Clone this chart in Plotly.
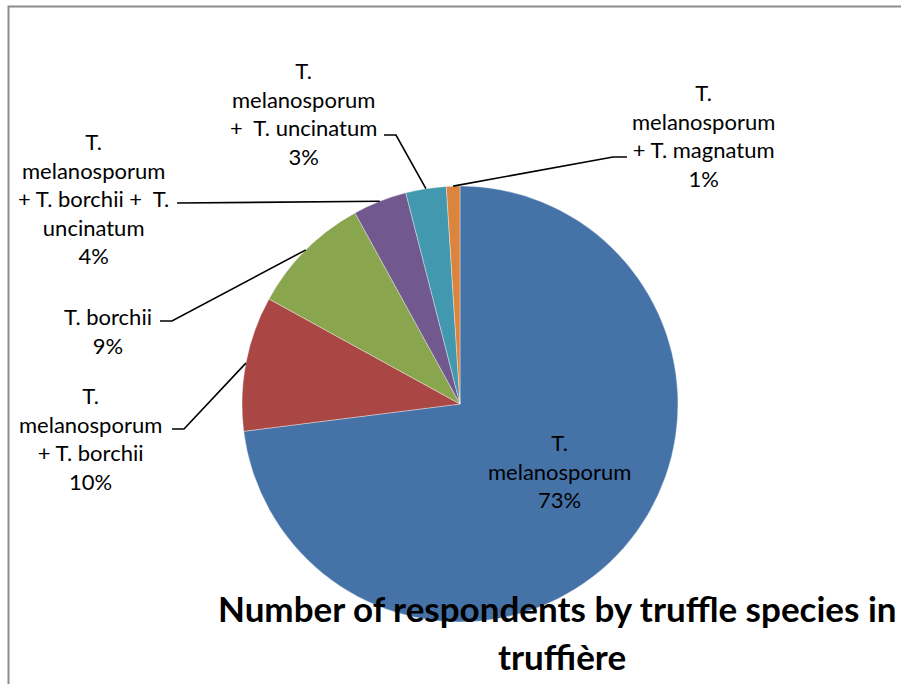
import math
import plotly.graph_objects as go

# ---- data ----
categories = [
    "T. melanosporum",
    "T. melanosporum + T. borchii",
    "T. borchii",
    "T. melanosporum + T. borchii +  T. uncinatum",
    "T. melanosporum +  T. uncinatum",
    "T. melanosporum + T. magnatum",
]
values = [73, 10, 9, 4, 3, 1]
label_texts = [
    "T.<br>melanosporum<br>73%",
    "T.<br>melanosporum<br>+ T. borchii<br>10%",
    "T. borchii<br>9%",
    "T.<br>melanosporum<br>+ T. borchii +  T.<br>uncinatum<br>4%",
    "T.<br>melanosporum<br>+  T. uncinatum<br>3%",
    "T.<br>melanosporum<br>+ T. magnatum<br>1%",
]
colors = ["#4572A7", "#AA4643", "#89A54E", "#71588F", "#4198AF", "#DB843D"]
title_lines = ["Number of respondents by truffle species in", "truffière"]

# ---- layout (pixels) ----
W, H = 901, 684
cx, cy, R = 460, 404, 218
# label centres (px) and leader elbow (px); None = inside label
label_pos = [(559, 471), (90, 438), (108, 331), (93, 198), (303, 114), (703, 135)]
elbows = [None, [(172, 429), (184, 429)], [(160, 321), (172, 321)],
          [(177, 203)], [(384, 135), (396, 135)], [(627, 157), (613, 157)]]
title_pos = [(557, 608), (562, 656)]

def px(x):
    return x / W

def py(y):
    return 1 - y / H

fig = go.Figure(go.Pie(
    labels=categories, values=values, sort=False, direction="clockwise", rotation=0,
    marker=dict(colors=colors, line=dict(color="rgba(255,255,255,0.6)", width=0.6)),
    textinfo="none", hoverinfo="label+percent", showlegend=False,
    domain=dict(x=[px(cx - R), px(cx + R)], y=[py(cy + R), py(cy - R)]),
))

font_lab = dict(family="Lato", size=22, color="#000000")
annotations = []
shapes = []
total = sum(values)
cum = 0
for i, v in enumerate(values):
    mid = (cum + v / 2) / total * 2 * math.pi
    cum += v
    ax = cx + R * math.sin(mid)
    ay = cy - R * math.cos(mid)
    lx, ly = label_pos[i]
    annotations.append(dict(x=px(lx), y=py(ly), xref="paper", yref="paper",
                            text=label_texts[i], showarrow=False, font=font_lab,
                            xanchor="center", yanchor="middle", align="center"))
    if elbows[i]:
        pts = elbows[i] + [(ax, ay)]
        path = "M " + " L ".join(f"{px(x)},{py(y)}" for x, y in pts)
        shapes.append(dict(type="path", xref="paper", yref="paper", path=path,
                           line=dict(color="#000000", width=1.6)))

for t, (tx, ty) in zip(title_lines, title_pos):
    annotations.append(dict(x=px(tx), y=py(ty), xref="paper", yref="paper",
                            text="<b>" + t + "</b>", showarrow=False,
                            font=dict(family="Lato", size=35, color="#000000"),
                            xanchor="center", yanchor="middle", align="center"))

shapes.append(dict(type="rect", xref="paper", yref="paper",
                   x0=px(8.5), x1=1.05, y0=-0.05, y1=py(6.5),
                   line=dict(color="#8c8c8c", width=2), layer="above"))

fig.update_layout(width=W, height=H, margin=dict(l=0, r=0, t=0, b=0),
                  paper_bgcolor="white", plot_bgcolor="white",
                  annotations=annotations, shapes=shapes)
fig.write_html("out.html", config={"displayModeBar": False},
               post_script="document.body.style.margin='0';document.body.style.overflow='hidden';")
